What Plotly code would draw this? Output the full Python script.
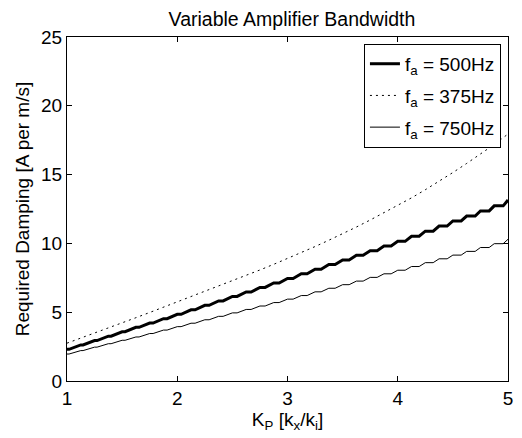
import plotly.graph_objects as go

# K_P sample points [k_x/k_i]
kp = [1.0, 1.125, 1.25, 1.375, 1.5, 1.625, 1.75, 1.875,
      2.0, 2.125, 2.25, 2.375, 2.5, 2.625, 2.75, 2.875,
      3.0, 3.125, 3.25, 3.375, 3.5, 3.625, 3.75, 3.875,
      4.0, 4.125, 4.25, 4.375, 4.5, 4.625, 4.75, 4.875, 5.0]

# required damping [A per m/s]
damp_500 = [2.30, 2.62, 2.94, 3.26, 3.58, 3.90, 4.21, 4.53,
            4.85, 5.17, 5.50, 5.82, 6.15, 6.47, 6.80, 7.12,
            7.45, 7.79, 8.12, 8.46, 8.80, 9.14, 9.47, 9.81,
            10.15, 10.52, 10.89, 11.26, 11.63, 11.99, 12.36, 12.73, 13.15]
damp_375 = [2.75, 3.11, 3.48, 3.85, 4.22, 4.60, 4.98, 5.36,
            5.75, 6.12, 6.50, 6.88, 7.27, 7.66, 8.07, 8.48,
            8.90, 9.33, 9.77, 10.23, 10.70, 11.19, 11.70, 12.22,
            12.75, 13.31, 13.90, 14.51, 15.15, 15.81, 16.49, 17.19, 17.95]
damp_750 = [1.96, 2.21, 2.46, 2.71, 2.96, 3.20, 3.45, 3.70,
            3.95, 4.20, 4.45, 4.70, 4.95, 5.20, 5.45, 5.70,
            5.95, 6.21, 6.48, 6.74, 7.00, 7.26, 7.53, 7.79,
            8.05, 8.32, 8.60, 8.88, 9.15, 9.42, 9.70, 9.98, 10.30]

FONT = "Liberation Sans, Arial, sans-serif"


def stairs(xs, ys, hold_lo=0.15, hold_hi=0.65):
    # hold each value, then ramp to the next; the flat part grows along the axis
    px, py = [], []
    n = len(xs) - 1
    for i in range(n):
        dx = xs[i + 1] - xs[i]
        hold = hold_lo + (hold_hi - hold_lo) * i / (n - 1)
        px += [xs[i], xs[i] + hold * dx]
        py += [ys[i], ys[i]]
    px.append(xs[-1])
    py.append(ys[-1])
    return px, py


fig = go.Figure()

x5, y5 = stairs(kp, damp_500)
fig.add_trace(go.Scatter(x=x5, y=y5, mode="lines", name="f<sub>a</sub> = 500Hz",
                         legendgroup="a", line=dict(color="black", width=3)))
fig.add_trace(go.Scatter(x=kp, y=damp_375, mode="lines", name="f<sub>a</sub> = 375Hz",
                         legendgroup="b", line=dict(color="black", width=1, dash="2px,4px")))
x7, y7 = stairs(kp, damp_750)
fig.add_trace(go.Scatter(x=x7, y=y7, mode="lines", name="f<sub>a</sub> = 750Hz",
                         legendgroup="c", line=dict(color="black", width=1)))

axis_style = dict(showgrid=False, zeroline=False, showline=True, linecolor="black",
                  linewidth=1, mirror="ticks", ticks="inside", ticklen=5,
                  tickcolor="black", tickfont=dict(size=19, color="black"))

fig.update_xaxes(range=[1, 5], tickvals=[1, 2, 3, 4, 5],
                 title=dict(text="K<sub>P</sub> [k<sub>x</sub>/k<sub>i</sub>]", standoff=0,
                            font=dict(size=19, color="black")),
                 **axis_style)
fig.update_yaxes(range=[0, 25], tickvals=[0, 5, 10, 15, 20, 25],
                 title=dict(text="Required Damping [A per m/s]", standoff=6,
                            font=dict(size=19, color="black")),
                 **axis_style)

# page body adds an 8px margin, so the figure is drawn 8px smaller
fig.update_layout(
    width=514, height=430,
    margin=dict(l=59, r=9, t=29, b=57),
    paper_bgcolor="white", plot_bgcolor="white",
    font=dict(family=FONT, color="black"),
    title=dict(text="Variable Amplifier Bandwidth", x=0.5525, xanchor="center",
               y=0.99, yanchor="top", font=dict(size=19.5, color="black")),
    showlegend=True,
    legend=dict(x=0.984, y=0.98, xanchor="right", yanchor="top",
                bgcolor="white", bordercolor="black", borderwidth=1,
                tracegroupgap=4,
                font=dict(size=19, color="black")),
)

fig.write_html("out.html")
